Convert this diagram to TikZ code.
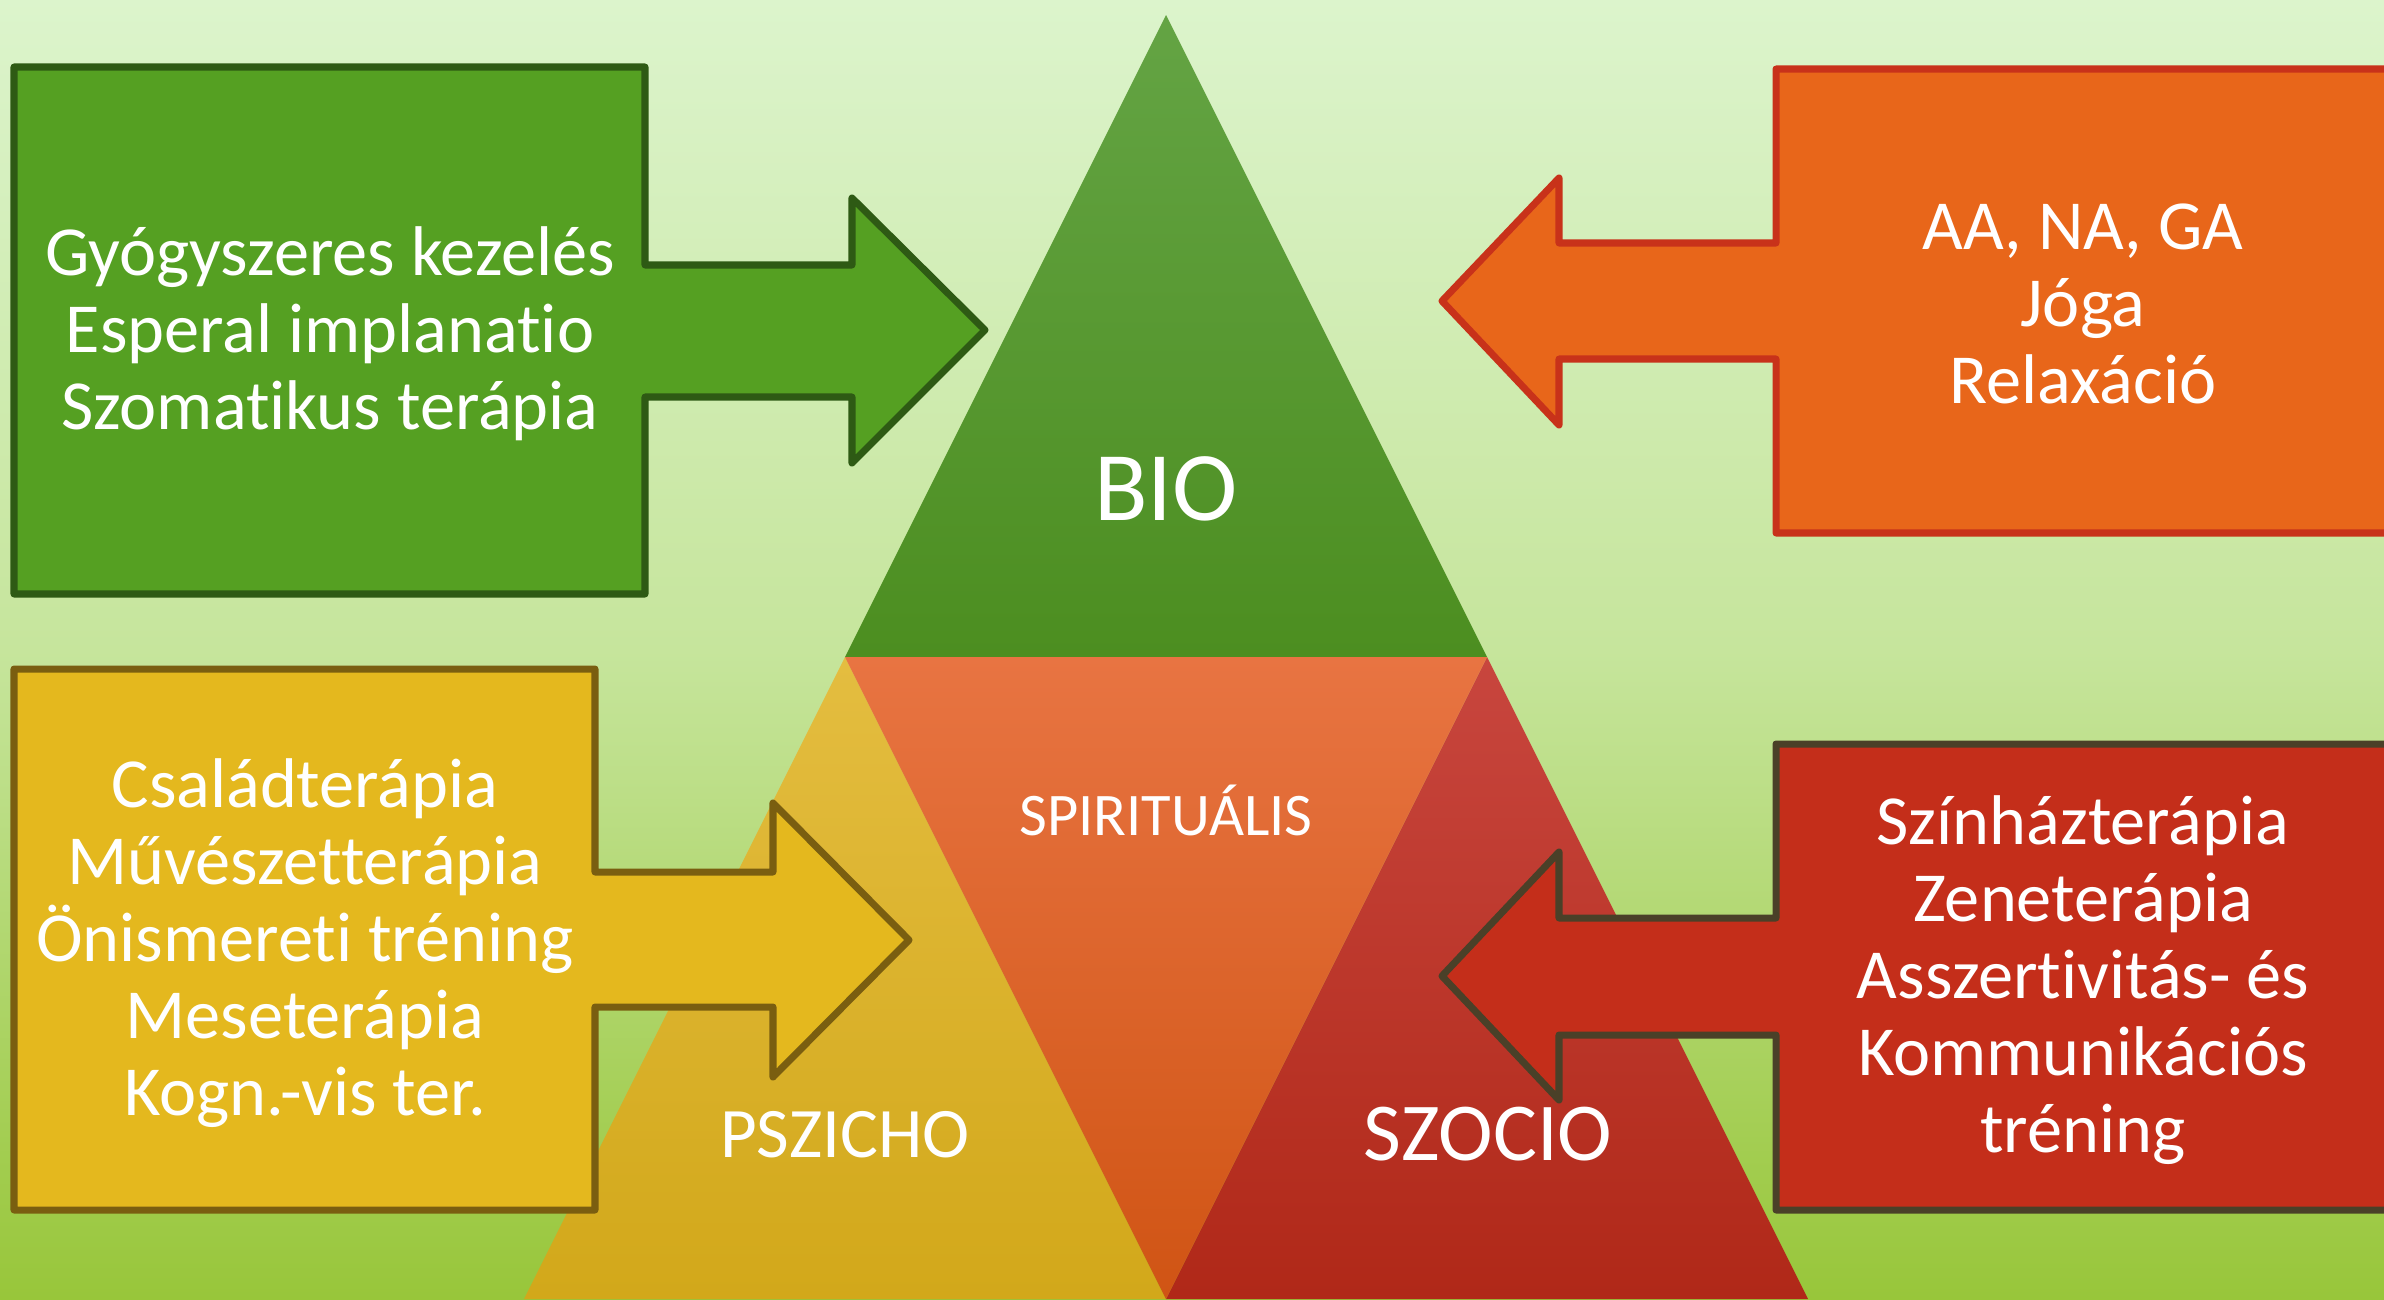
\documentclass[tikz,border=0pt]{standalone}
\usepackage{fontspec}
\setmainfont{Carlito}[Ligatures=NoCommon]
\usepackage{tikz}
\definecolor{bgtop}{HTML}{DCF4CC}
\definecolor{bgmid}{HTML}{C6E59C}
\definecolor{bgbot}{HTML}{98C63A}
\definecolor{biotop}{HTML}{64A444}
\definecolor{biobot}{HTML}{4C8E20}
\definecolor{spirtop}{HTML}{E87442}
\definecolor{spirbot}{HTML}{D05414}
\definecolor{psztop}{HTML}{E4BD40}
\definecolor{pszbot}{HTML}{D2A81A}
\definecolor{szoctop}{HTML}{C8463E}
\definecolor{szocbot}{HTML}{B02818}
\definecolor{greenfill}{HTML}{55A022}
\definecolor{greenline}{HTML}{2E5A14}
\definecolor{orangefill}{HTML}{E8661A}
\definecolor{orangeline}{HTML}{C8321A}
\definecolor{yellowfill}{HTML}{E4B81E}
\definecolor{yellowline}{HTML}{7A5E10}
\definecolor{redfill}{HTML}{C42E1A}
\definecolor{redline}{HTML}{4A4028}

\begin{document}
\begin{tikzpicture}[x=0.01cm,y=-0.01cm,line join=round,
			callout/.style={line width=2pt},
			list text/.style={text=white,align=center,inner sep=0pt,font=\fontsize{20}{21.9}\selectfont},
			part label/.style={text=white,inner sep=0pt}]

			\clip (0,0) rectangle (2384,1299);
			\shade[top color=bgtop,bottom color=bgmid] (0,0) rectangle (2384,651);
			\shade[top color=bgmid,bottom color=bgbot] (0,650) rectangle (2384,1299);

			\coordinate (apex) at (1166,15);
			\coordinate (lmid) at (845,657);
			\coordinate (rmid) at (1487,657);
			\coordinate (lbase) at (524,1299);
			\coordinate (bmid) at (1166,1299);
			\coordinate (rbase) at (1808,1299);

			\shade[top color=biotop,bottom color=biobot] (apex) -- (rmid) -- (lmid) -- cycle;
			\shade[top color=psztop,bottom color=pszbot] (lmid) -- (bmid) -- (lbase) -- cycle;
			\shade[top color=szoctop,bottom color=szocbot] (rmid) -- (rbase) -- (bmid) -- cycle;
			\shade[top color=spirtop,bottom color=spirbot] (lmid) -- (rmid) -- (bmid) -- cycle;

			\node[part label,font=\fontsize{28}{30}\selectfont] (bio) at (1166,489) {BIO};
			\node[part label,font=\fontsize{17.2}{19}\selectfont] (spirit) at (1166,810) {SPIRITUÁLIS};
			\node[part label,font=\fontsize{20.2}{22}\selectfont] (pszicho) at (845,1135) {PSZICHO};
			\node[part label,font=\fontsize{23.4}{25}\selectfont] (szocio) at (1488,1134) {SZOCIO};

			\draw[callout,fill=greenfill,draw=greenline] (14,67) -- (645,67) -- (645,265) -- (852,265) -- (852,198) -- (985,330)
				-- (852,463) -- (852,397) -- (645,397) -- (645,594) -- (14,594) -- cycle;
			\draw[callout,fill=yellowfill,draw=yellowline] (14,669) -- (595,669) -- (595,872) -- (773,872) -- (773,803) -- (909,940)
				-- (773,1077) -- (773,1007) -- (595,1007) -- (595,1210) -- (14,1210) -- cycle;
			\draw[callout,fill=orangefill,draw=orangeline] (2400,69) -- (1776,69) -- (1776,243) -- (1559,243) -- (1559,178) -- (1442,301)
				-- (1559,425) -- (1559,359) -- (1776,359) -- (1776,533) -- (2400,533);
			\draw[callout,fill=redfill,draw=redline] (2400,744) -- (1776,744) -- (1776,918) -- (1559,918) -- (1559,852) -- (1442,976)
				-- (1559,1100) -- (1559,1035) -- (1776,1035) -- (1776,1210) -- (2400,1210);

			\node[list text] (biolist) at (330,334) {Gyógyszeres kezelés\\Esperal implanatio\\Szomatikus terápia};
			\node[list text] (pszlist) at (305,943) {Családterápia\\Művészetterápia\\Önismereti tréning\\Meseterápia\\Kogn.-vis ter.};
			\node[list text] (spirlist) at (2083,304) {AA, NA, GA\\Jóga\\Relaxáció};
			\node[list text] (szoclist) at (2083,980) {Színházterápia\\Zeneterápia\\Asszertivitás- és\\Kommunikációs\\tréning};

		\end{tikzpicture}
\end{document}
